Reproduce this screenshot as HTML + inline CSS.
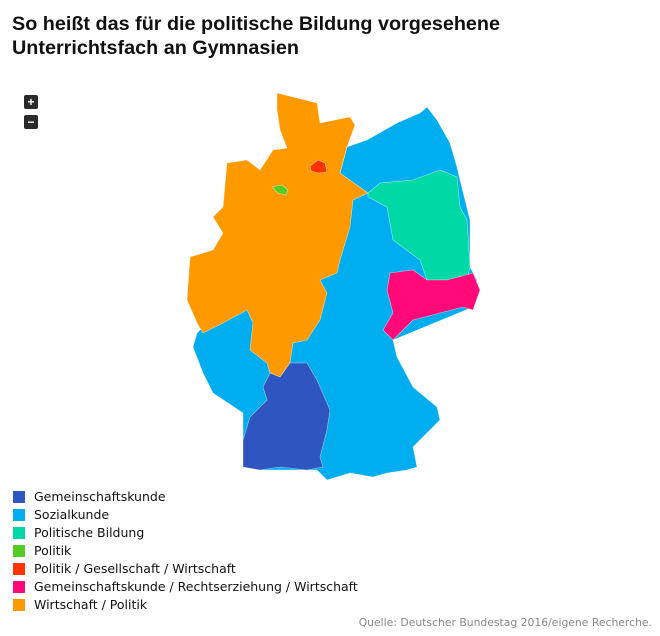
<!DOCTYPE html>
<html><head><meta charset="utf-8"><style>
body{margin:0;width:660px;height:636px;background:#fff;font-family:"DejaVu Sans","Liberation Sans",sans-serif;position:relative;overflow:hidden}
h1{position:absolute;left:12px;top:12px;margin:0;font:bold 19.8px/24px "Liberation Sans",sans-serif;color:#111;letter-spacing:0}
.btn{position:absolute;left:24px;width:14px;height:14px;background:#2a2a2a;color:#fff;font:bold 12px/14px "Liberation Sans",sans-serif;text-align:center;border-radius:2px}
.lg{position:absolute;left:13px;font-size:12.5px;color:#111;line-height:14px}
.lg i{position:absolute;left:0;top:1px;width:12px;height:12px}
.lg span{position:absolute;left:21px;white-space:nowrap}
.src{position:absolute;right:8px;top:616px;font-size:10.8px;color:#888}
</style></head><body>
<h1>So heißt das für die politische Bildung vorgesehene<br>Unterrichtsfach an Gymnasien</h1>
<div class="btn" style="top:95px">+</div>
<div class="btn" style="top:115px">−</div>
<svg width="660" height="636" style="position:absolute;left:0;top:0">
<g stroke="#fff" stroke-width="0.6" stroke-opacity="0.6">
<polygon fill="#00aeef" points="340,173 347,147 367,140 397,123 420,113 427,107 437,120 450,143 457,167 460,180 470,220 470,267 477,280 473,307 393,340 397,357 413,387 437,407 440,420 427,433 413,447 417,467 407,470 387,473 373,477 350,473 327,480 317,470 260,470 243,440 243,413 213,393 203,373 193,347 197,333 230,300 300,230"/>
<polygon fill="#ff9900" points="277,93 317,103 320,123 350,117 355,125 347,147 340,173 368,193 353,200 350,227 340,260 337,273 320,280 327,293 320,320 307,340 293,343 290,363 280,377 270,373 267,363 250,350 253,323 247,310 223,323 203,333 197,323 187,300 190,257 213,250 223,233 213,217 223,207 227,163 247,160 260,170 273,150 287,148 280,130 277,110"/>
<polygon fill="#00d9a6" points="368,193 380,183 413,180 440,170 457,177 460,207 467,220 470,267 467,280 447,280 427,280 420,260 393,240 387,207 368,197"/>
<polygon fill="#ff0a78" points="390,273 413,270 427,280 447,280 473,273 480,290 473,310 463,307 440,313 413,320 400,333 393,340 383,330 393,313 387,290"/>
<polygon fill="#2e55c0" points="270,373 280,377 290,363 307,363 317,380 330,410 327,430 320,457 323,467 307,470 280,467 260,470 243,467 243,440 250,417 267,400 263,387"/>
<polygon fill="#ff3300" points="310,166 318,160 325,163 327,172 318,173 311,171"/>
<polygon fill="#55cc22" points="272,187 282,185 288,190 286,195 278,193"/>
</g>
</svg>
<div class="lg" style="top:490px"><i style="background:#2e55c0"></i><span>Gemeinschaftskunde</span></div>
<div class="lg" style="top:508px"><i style="background:#00aeef"></i><span>Sozialkunde</span></div>
<div class="lg" style="top:526px"><i style="background:#00d9a6"></i><span>Politische Bildung</span></div>
<div class="lg" style="top:544px"><i style="background:#55cc22"></i><span>Politik</span></div>
<div class="lg" style="top:562px"><i style="background:#ff3300"></i><span>Politik / Gesellschaft / Wirtschaft</span></div>
<div class="lg" style="top:580px"><i style="background:#ff0a78"></i><span>Gemeinschaftskunde / Rechtserziehung / Wirtschaft</span></div>
<div class="lg" style="top:598px"><i style="background:#ff9900"></i><span>Wirtschaft / Politik</span></div>
<div class="src">Quelle: Deutscher Bundestag 2016/eigene Recherche.</div>
</body></html>
